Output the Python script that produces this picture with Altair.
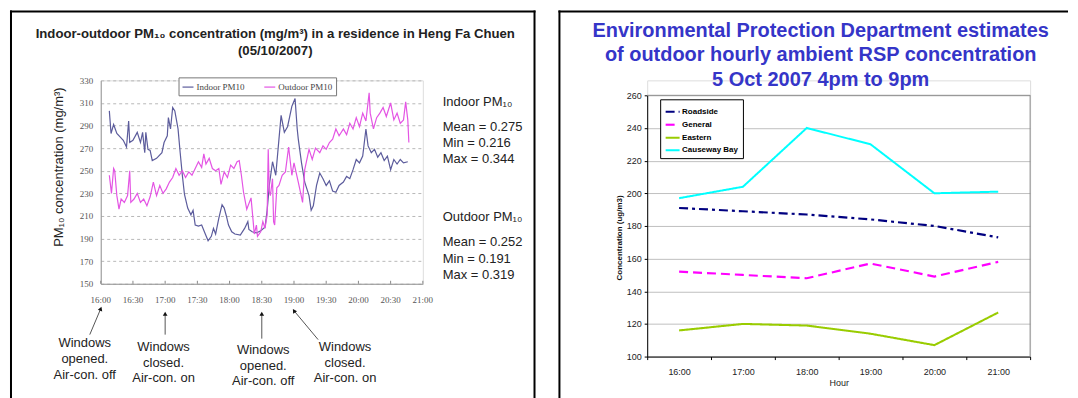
import altair as alt
import pandas as pd

# ---------------- Left panel data (minutes after 16:00, PM10) ----------------
indoor_min = [8, 9.6, 12, 15, 18, 21, 24, 26, 27, 30, 34, 37, 39, 41, 42, 44, 46, 48, 52, 57,
              59, 62, 63, 65, 67, 69, 72, 74, 76, 78, 81, 84, 86, 88, 91, 94, 97, 100, 103, 105,
              107, 110, 113, 115, 117, 119, 122, 125, 130, 134, 137, 138, 141, 145, 149, 153, 155, 157, 160, 163,
              166, 168, 171, 174, 176, 178, 181, 183, 184, 187, 190, 194, 196, 198, 201, 204, 207, 210, 213, 216,
              219, 222, 226, 229, 232, 235, 238, 241, 244, 247, 249, 252, 255, 258, 261, 264, 267, 270, 273, 276,
              279, 282, 286]
indoor_val = [303, 283, 291, 283, 280, 277, 271, 294, 275, 277, 284, 275, 284, 266, 284, 269, 268, 259, 261, 266,
              275, 281, 297, 287, 306, 303, 287, 266, 246, 229, 217, 211, 215, 202, 201, 202, 195, 188, 192, 199,
              194, 208, 220, 217, 210, 202, 196, 194, 193, 199, 205, 198, 196, 195, 197, 200, 215, 237, 258, 246,
              278, 299, 284, 289, 298, 307, 314, 287, 278, 257, 240, 228, 215, 219, 237, 248, 243, 237, 241, 232,
              231, 237, 240, 245, 243, 251, 260, 257, 263, 287, 272, 266, 269, 262, 266, 259, 263, 251, 260, 256,
              260, 257, 258]

outdoor_min = [8, 10, 12, 13, 15, 17, 19, 22, 25, 27, 28, 31, 34, 37, 40, 43, 46, 49, 52, 55,
               58, 61, 64, 67, 70, 73, 76, 79, 82, 85, 88, 91, 94, 96, 98, 101, 104, 107, 110, 112,
               115, 118, 121, 124, 127, 129, 131, 133, 136, 140, 142, 143, 145, 146, 149, 151, 153, 155, 156, 157,
               158, 160, 161, 162, 164, 166, 169, 172, 175, 178, 180, 184, 186, 188, 190, 194, 197, 200, 204, 207,
               210, 213, 216, 219, 222, 226, 229, 232, 235, 238, 241, 244, 247, 250, 251, 254, 257, 260, 263, 266,
               270, 273, 276, 279, 282, 284, 286, 287]
outdoor_val = [246, 230, 252, 250, 228, 216, 225, 222, 228, 250, 222, 225, 230, 222, 225, 219, 227, 240, 228, 237,
               230, 234, 240, 244, 252, 246, 250, 244, 249, 246, 252, 258, 253, 265, 256, 261, 252, 250, 252, 238,
               249, 244, 255, 252, 258, 259, 246, 231, 216, 226, 205, 194, 202, 192, 196, 205, 199, 211, 269, 232,
               228, 243, 205, 202, 235, 237, 246, 249, 271, 246, 257, 240, 231, 222, 251, 269, 260, 270, 266, 272,
               269, 275, 278, 287, 281, 287, 282, 292, 287, 297, 289, 301, 294, 319, 301, 287, 297, 301, 306, 298,
               310, 295, 301, 292, 295, 311, 295, 275]

x_tick_minutes = [0, 30, 60, 90, 120, 150, 180, 210, 240, 270, 300]
x_tick_labels = ["16:00", "16:30", "17:00", "17:30", "18:00", "18:30",
                 "19:00", "19:30", "20:00", "20:30", "21:00"]
event_minutes = [0, 60, 150, 180]
event_labels = [["Windows", "opened.", "Air-con. off"],
                ["Windows", "closed.", "Air-con. on"],
                ["Windows", "opened.", "Air-con. off"],
                ["Windows", "closed.", "Air-con. on"]]

# ---------------- Right panel data ----------------
hours = ["16:00", "17:00", "18:00", "19:00", "20:00", "21:00"]
stations = ["Roadside", "General", "Eastern", "Causeway Bay"]
roadside = [191, 189, 187, 184, 180, 173]
general = [152, 150, 148, 157, 149, 158]
eastern = [116, 120, 119, 114, 107, 127]
causeway = [197, 204, 240, 230, 200, 201]

FONT = "Liberation Sans"
SERIF = "Liberation Serif"
BOTTOM = 322  # frame lines end (relative px)


def txt(s, x, y, size=13, weight="normal", color="#222", align="center", angle=0,
        font=FONT, line_height=16):
    return alt.Chart(alt.Data(values=[{}])).mark_text(
        text=s, fontSize=size, fontWeight=weight, color=color, align=align,
        baseline="middle", angle=angle, font=font, lineHeight=line_height
    ).encode(x=alt.value(x), y=alt.value(y))


def rule(x, y, x2=None, y2=None, color="black", width=2):
    enc = dict(x=alt.value(x), y=alt.value(y))
    if x2 is not None:
        enc["x2"] = alt.value(x2)
    if y2 is not None:
        enc["y2"] = alt.value(y2)
    return alt.Chart(alt.Data(values=[{}])).mark_rule(color=color, strokeWidth=width).encode(**enc)


# ================= LEFT PANEL =================
LW, LH = 323, 204
xL = alt.Scale(domain=[0, 300], nice=False, zero=False)
yL = alt.Scale(domain=[150, 330], nice=False, zero=False)

df_left = pd.DataFrame({
    "min": indoor_min + outdoor_min,
    "val": indoor_val + outdoor_val,
    "series": ["Indoor PM10"] * len(indoor_min) + ["Outdoor PM10"] * len(outdoor_min),
})

left_lines = alt.Chart(df_left).mark_line(strokeWidth=1.2).encode(
    x=alt.X("min:Q", scale=xL, axis=alt.Axis(
        values=x_tick_minutes, title=None, grid=False, ticks=False, tickSize=0,
        labels=False, domainColor="#999")),
    y=alt.Y("val:Q", scale=yL, axis=alt.Axis(
        values=list(range(150, 331, 20)), title=None, grid=True, gridDash=[3, 3],
        gridColor="#b8b8b8", ticks=False, tickSize=0, domainColor="#999",
        labelFont=SERIF, labelFontSize=9, labelColor="#555", labelPadding=8,
        labelOverlap=False)),
    color=alt.Color("series:N",
                    scale=alt.Scale(domain=["Indoor PM10", "Outdoor PM10"],
                                    range=["#5c5c9c", "#e455e4"]),
                    legend=alt.Legend(
                        title=None, orient="none", legendX=78, legendY=-3,
                        direction="horizontal", symbolType="stroke", symbolSize=121,
                        symbolStrokeWidth=1.2, labelFont=SERIF, labelFontSize=9,
                        labelColor="#444", strokeColor="#777", fillColor="white",
                        padding=3, columnPadding=16, labelOffset=2)),
)

tick_df = pd.DataFrame({"min": x_tick_minutes, "lab": x_tick_labels})
left_ticks = alt.Chart(tick_df).mark_rule(color="#888", strokeWidth=1).encode(
    x=alt.X("min:Q", scale=xL), y=alt.value(LH - 3), y2=alt.value(LH))
left_tick_labels = alt.Chart(tick_df).mark_text(
    font=SERIF, fontSize=9, color="#555", baseline="middle", align="center").encode(
    x=alt.X("min:Q", scale=xL), y=alt.value(LH + 16), text="lab:N")

left_layers = [left_lines, left_ticks, left_tick_labels]

# annotation arrows (head at event time on axis)
arrow_geo = [  # tail x (px), head y, tail y, head angle
    (-11, 227, 255, 21),
    (None, 232, 255, 0),
    (None, 232, 259, 0),
    (218, 229, 260, 327),
]
text_pos = [(-16, 263), (63, 267), (163, 270), (245, 267)]
for t, (tx, hy, ty, ang), lab, (lx, ly) in zip(event_minutes, arrow_geo, event_labels, text_pos):
    d = alt.Data(values=[{"min": t}])
    enc = dict(x=alt.X("min:Q", scale=xL), y=alt.value(hy + 2), y2=alt.value(ty))
    if tx is not None:
        enc["x2"] = alt.value(tx)
    left_layers.append(alt.Chart(d).mark_rule(color="#555", strokeWidth=1).encode(**enc))
    left_layers.append(alt.Chart(d).mark_point(shape="triangle-up", filled=True, size=22,
                                               color="#111", angle=ang, opacity=1).encode(
        x=alt.X("min:Q", scale=xL), y=alt.value(hy + 2)))
    left_layers.append(txt(lab, lx, ly, size=13, line_height=16))

# titles and texts
left_layers += [
    txt("Indoor-outdoor PM\u2081\u2080 concentration (mg/m\u00b3) in a residence in Heng Fa Chuen",
        175, -46, size=13.2, weight="bold"),
    txt("(05/10/2007)", 175, -29, size=13.2, weight="bold"),
    txt("PM\u2081\u2080 concentration (mg/m\u00b3)", -42, 87, size=13, angle=270),
    txt("Indoor PM\u2081\u2080", 343, 22, size=13, align="left"),
    txt("Mean = 0.275", 343, 47, size=13, align="left"),
    txt("Min = 0.216", 343, 63, size=13, align="left"),
    txt("Max = 0.344", 343, 79, size=13, align="left"),
    txt("Outdoor PM\u2081\u2080", 343, 137, size=13, align="left"),
    txt("Mean = 0.252", 343, 162, size=13, align="left"),
    txt("Min = 0.191", 343, 179, size=13, align="left"),
    txt("Max = 0.319", 343, 195, size=13, align="left"),
    # panel frame
    rule(-90, -70, y2=BOTTOM),
    rule(435, -70, y2=BOTTOM),
    rule(-91, -69, x2=436),
]

left = alt.layer(*left_layers).properties(width=LW, height=LH)

# ================= RIGHT PANEL =================
RW, RH = 384, 277
TOP = 15
rows = []
for st, vals in zip(stations, [roadside, general, eastern, causeway]):
    for h, v in zip(hours, vals):
        rows.append({"hour": h, "value": v, "station": st})
df_r = pd.DataFrame(rows)

yR = alt.Scale(domain=[100, 260], range=[RH, TOP], nice=False, zero=False)

right_lines = alt.Chart(df_r).mark_line().encode(
    x=alt.X("hour:N", sort=hours, bandPosition=0.5,
            scale=alt.Scale(type="band", paddingInner=0, paddingOuter=0),
            axis=alt.Axis(title="Hour", labelAngle=0, domainColor="black", tickColor="black",
                          tickSize=3, tickBand="extent", labelFont=FONT, labelFontSize=9,
                          labelColor="#222", labelPadding=8, titleFont=FONT, titleFontSize=9,
                          titleFontWeight="normal", titleColor="#222", titlePadding=2, grid=False)),
    y=alt.Y("value:Q", scale=yR,
            axis=alt.Axis(values=list(range(100, 261, 20)), title=None, grid=True,
                          gridColor="#c0c0c0", domainColor="black", tickColor="black",
                          tickSize=3, labelFont=FONT, labelFontSize=9, labelColor="#222",
                          labelPadding=3)),
    color=alt.Color("station:N", sort=stations,
                    scale=alt.Scale(domain=stations,
                                    range=["#000080", "#ff00ff", "#99cc00", "#00ffff"]),
                    legend=alt.Legend(title=None, orient="none", legendX=13, legendY=TOP + 4,
                                      symbolType="stroke", symbolSize=196, symbolStrokeWidth=2,
                                      labelFont=FONT, labelFontSize=8, labelFontWeight="bold",
                                      labelColor="black", strokeColor="black", fillColor="white",
                                      padding=4, rowPadding=0, labelOffset=1)),
    strokeDash=alt.StrokeDash("station:N", sort=stations,
                              scale=alt.Scale(domain=stations,
                                              range=[[9, 4, 3, 4], [9, 5], [1, 0], [1, 0]])),
    strokeWidth=alt.StrokeWidth("station:N",
                                scale=alt.Scale(domain=stations, range=[2.2, 2, 1.3, 1.3]),
                                legend=None),
)

right_layers = [
    right_lines,
    rule(0, TOP, x2=RW, color="#8c8c8c", width=1),
    rule(RW, TOP, y2=RH, color="#8c8c8c", width=1),
    txt("Environmental Protection Department estimates", 174, -49, size=20,
        weight="bold", color="#3535c8"),
    txt("of outdoor hourly ambient RSP concentration", 174, -25, size=20,
        weight="bold", color="#3535c8"),
    txt("5 Oct 2007 4pm to 9pm", 174, 0, size=20, weight="bold", color="#3535c8"),
    txt("Concentration (ug/m3)", -27, 158, size=8, weight="bold", angle=270, color="#111"),
    # panel frame
    rule(-88, -70, y2=BOTTOM),
    rule(-89, -69, x2=422),
]
right = alt.layer(*right_layers).properties(width=RW, height=RH)

chart = alt.hconcat(left, right, spacing=225, bounds="flush", padding=0).resolve_scale(
    x="independent", y="independent", color="independent",
    strokeDash="independent", strokeWidth="independent"
).resolve_legend(color="independent", strokeDash="independent").configure_view(
    stroke=None
).configure(background="white", font=FONT)

chart.save("out.html", embed_options={"renderer": "svg", "actions": False})
